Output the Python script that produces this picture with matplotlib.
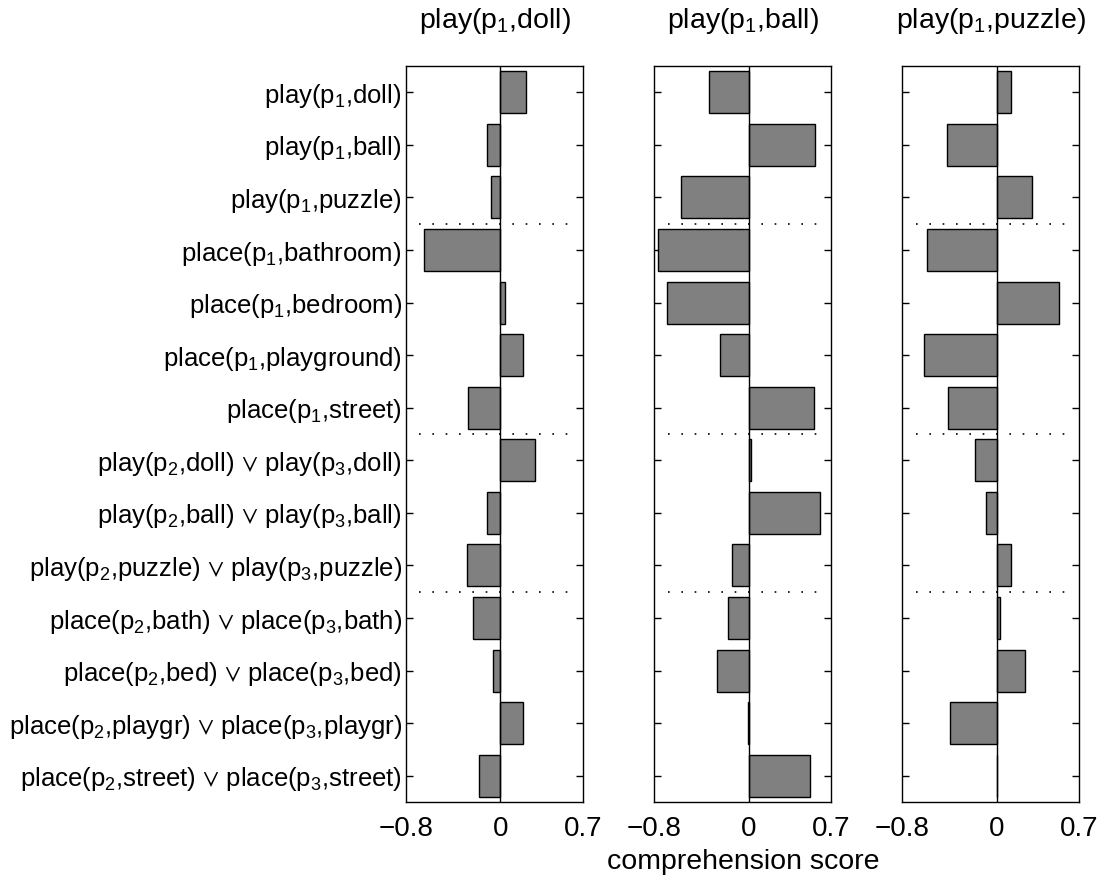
import numpy as np
import matplotlib
matplotlib.use("Agg")
import matplotlib.pyplot as plt

plt.rcParams['font.family'] = ['Liberation Sans', 'DejaVu Sans']
plt.rcParams['mathtext.fontset'] = 'custom'
plt.rcParams['mathtext.rm'] = 'Liberation Sans'
plt.rcParams['mathtext.it'] = 'Liberation Sans'
plt.rcParams['mathtext.default'] = 'regular'

# row labels, top to bottom
row_labels = [
    r'play(p$_1$,doll)',
    r'play(p$_1$,ball)',
    r'play(p$_1$,puzzle)',
    r'place(p$_1$,bathroom)',
    r'place(p$_1$,bedroom)',
    r'place(p$_1$,playground)',
    r'place(p$_1$,street)',
    r'play(p$_2$,doll) $\vee$ play(p$_3$,doll)',
    r'play(p$_2$,ball) $\vee$ play(p$_3$,ball)',
    r'play(p$_2$,puzzle) $\vee$ play(p$_3$,puzzle)',
    r'place(p$_2$,bath) $\vee$ place(p$_3$,bath)',
    r'place(p$_2$,bed) $\vee$ place(p$_3$,bed)',
    r'place(p$_2$,playgr) $\vee$ place(p$_3$,playgr)',
    r'place(p$_2$,street) $\vee$ place(p$_3$,street)',
]

panel_titles = [r'play(p$_1$,doll)', r'play(p$_1$,ball)', r'play(p$_1$,puzzle)']

scores_doll = [0.218, -0.116, -0.082, -0.647, 0.04, 0.19, -0.277,
               0.297, -0.116, -0.285, -0.232, -0.062, 0.19, -0.178]
scores_ball = [-0.34, 0.56, -0.571, -0.767, -0.69, -0.243, 0.557,
               0.02, 0.605, -0.139, -0.175, -0.266, -0.005, 0.518]
scores_puzzle = [0.119, -0.424, 0.297, -0.588, 0.525, -0.616, -0.412,
                 -0.186, -0.09, 0.122, 0.031, 0.243, -0.393, 0.0]

group_breaks = [2.5, 6.5, 9.5]
xticks = [-0.8, 0, 0.7]
xtick_labels = ['\u22120.8', '0', '0.7']

fig = plt.figure(figsize=(11.02, 8.75), dpi=100)

lefts = [406 / 1102, 654.3 / 1102, 902.3 / 1102]
width = 177 / 1102
bottom = (875 - 802) / 875
height = 736 / 875

ypos = np.arange(len(row_labels))
all_scores = [scores_doll, scores_ball, scores_puzzle]

for k, (left, scores, title) in enumerate(zip(lefts, all_scores, panel_titles)):
    ax = fig.add_axes([left, bottom, width, height])
    ax.barh(ypos, scores, height=0.8, color='#808080', edgecolor='black',
            linewidth=1.0, zorder=2)
    ax.axvline(0, color='black', linewidth=1.0, zorder=3)
    for yb in group_breaks:
        ax.axhline(yb, xmin=0.075, xmax=0.96, color='black', linewidth=1.2,
                   linestyle=(0, (1, 7)), zorder=1)
    ax.set_xlim(-0.8, 0.7)
    ax.set_ylim(len(row_labels) - 0.5, -0.5)
    ax.set_xticks(xticks)
    ax.set_xticklabels(xtick_labels, fontsize=20)
    ax.set_yticks(ypos)
    if k == 0:
        ax.set_yticklabels(row_labels, fontsize=18.5)
    else:
        ax.set_yticklabels([])
    ax.tick_params(axis='y', direction='in', length=5, width=1.0,
                   left=True, right=True, pad=3)
    ax.tick_params(axis='x', direction='in', length=0, pad=10)
    for sp in ax.spines.values():
        sp.set_linewidth(1.0)
    ax.set_title(title, fontsize=20.5, pad=27)
    if k == 1:
        ax.set_xlabel('comprehension score', fontsize=20.5, labelpad=5)

fig.savefig('out.png', dpi=100, facecolor='white')
